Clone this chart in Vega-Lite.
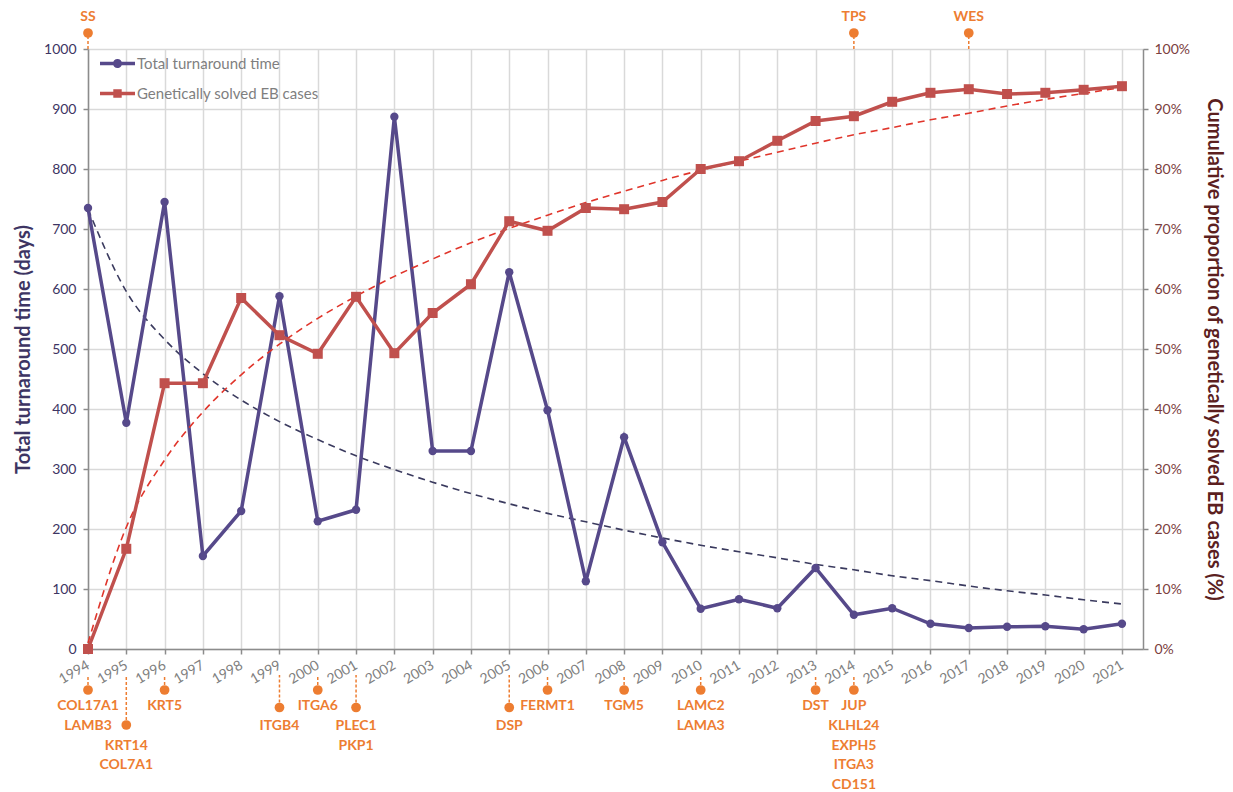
{
  "$schema": "https://vega.github.io/schema/vega-lite/v6.json",
  "width": 1055,
  "height": 600,
  "autosize": {"type": "none"},
  "padding": {"left": 88, "top": 49, "right": 90, "bottom": 143},
  "background": "white",
  "config": {
    "font": "Lato",
    "view": {"stroke": null},
    "legend": {"labelFont": "Lato"}
  },
  "datasets": {
    "tat": [
      {"year": 1994, "days": 735, "trend": 733},
      {"year": 1995, "days": 377, "trend": 596},
      {"year": 1996, "days": 745, "trend": 516},
      {"year": 1997, "days": 155, "trend": 459},
      {"year": 1998, "days": 230, "trend": 415},
      {"year": 1999, "days": 588, "trend": 379},
      {"year": 2000, "days": 213, "trend": 349},
      {"year": 2001, "days": 232, "trend": 322},
      {"year": 2002, "days": 887, "trend": 299},
      {"year": 2003, "days": 330, "trend": 278},
      {"year": 2004, "days": 330, "trend": 259},
      {"year": 2005, "days": 628, "trend": 242},
      {"year": 2006, "days": 398, "trend": 226},
      {"year": 2007, "days": 113, "trend": 212},
      {"year": 2008, "days": 353, "trend": 198},
      {"year": 2009, "days": 178, "trend": 185},
      {"year": 2010, "days": 67, "trend": 173},
      {"year": 2011, "days": 83, "trend": 162},
      {"year": 2012, "days": 68, "trend": 152},
      {"year": 2013, "days": 135, "trend": 141},
      {"year": 2014, "days": 57, "trend": 132},
      {"year": 2015, "days": 68, "trend": 122},
      {"year": 2016, "days": 42, "trend": 114},
      {"year": 2017, "days": 35, "trend": 105},
      {"year": 2018, "days": 37, "trend": 97},
      {"year": 2019, "days": 38, "trend": 90},
      {"year": 2020, "days": 33, "trend": 82},
      {"year": 2021, "days": 42, "trend": 75}
    ],
    "solved": [
      {"year": 1994, "pct": 0.0, "trend": 0.01},
      {"year": 1995, "pct": 0.167, "trend": 0.203},
      {"year": 1996, "pct": 0.443, "trend": 0.315},
      {"year": 1997, "pct": 0.443, "trend": 0.395},
      {"year": 1998, "pct": 0.585, "trend": 0.457},
      {"year": 1999, "pct": 0.523, "trend": 0.508},
      {"year": 2000, "pct": 0.492, "trend": 0.551},
      {"year": 2001, "pct": 0.587, "trend": 0.588},
      {"year": 2002, "pct": 0.493, "trend": 0.621},
      {"year": 2003, "pct": 0.56, "trend": 0.65},
      {"year": 2004, "pct": 0.608, "trend": 0.677},
      {"year": 2005, "pct": 0.713, "trend": 0.701},
      {"year": 2006, "pct": 0.697, "trend": 0.723},
      {"year": 2007, "pct": 0.735, "trend": 0.744},
      {"year": 2008, "pct": 0.733, "trend": 0.763},
      {"year": 2009, "pct": 0.745, "trend": 0.781},
      {"year": 2010, "pct": 0.8, "trend": 0.798},
      {"year": 2011, "pct": 0.813, "trend": 0.813},
      {"year": 2012, "pct": 0.847, "trend": 0.828},
      {"year": 2013, "pct": 0.88, "trend": 0.843},
      {"year": 2014, "pct": 0.888, "trend": 0.857},
      {"year": 2015, "pct": 0.912, "trend": 0.869},
      {"year": 2016, "pct": 0.927, "trend": 0.882},
      {"year": 2017, "pct": 0.933, "trend": 0.893},
      {"year": 2018, "pct": 0.925, "trend": 0.905},
      {"year": 2019, "pct": 0.927, "trend": 0.916},
      {"year": 2020, "pct": 0.932, "trend": 0.926},
      {"year": 2021, "pct": 0.938, "trend": 0.936}
    ],
    "methods": [
      {"year": 1994, "method": "SS", "lo": 0, "hi": 0.375},
      {"year": 2014, "method": "TPS", "lo": 0, "hi": 0.375},
      {"year": 2017, "method": "WES", "lo": 0, "hi": 0.375}
    ],
    "genes": [
      {"year": 1994, "gene": "COL17A1", "tier": 0, "line": 0},
      {"year": 1994, "gene": "LAMB3", "tier": 0, "line": 1},
      {"year": 1995, "gene": "KRT14", "tier": 2, "line": 0},
      {"year": 1995, "gene": "COL7A1", "tier": 2, "line": 1},
      {"year": 1996, "gene": "KRT5", "tier": 0, "line": 0},
      {"year": 1999, "gene": "ITGB4", "tier": 1, "line": 0},
      {"year": 2000, "gene": "ITGA6", "tier": 0, "line": 0},
      {"year": 2001, "gene": "PLEC1", "tier": 1, "line": 0},
      {"year": 2001, "gene": "PKP1", "tier": 1, "line": 1},
      {"year": 2005, "gene": "DSP", "tier": 1, "line": 0},
      {"year": 2006, "gene": "FERMT1", "tier": 0, "line": 0},
      {"year": 2008, "gene": "TGM5", "tier": 0, "line": 0},
      {"year": 2010, "gene": "LAMC2", "tier": 0, "line": 0},
      {"year": 2010, "gene": "LAMA3", "tier": 0, "line": 1},
      {"year": 2013, "gene": "DST", "tier": 0, "line": 0},
      {"year": 2014, "gene": "JUP", "tier": 0, "line": 0},
      {"year": 2014, "gene": "KLHL24", "tier": 0, "line": 1},
      {"year": 2014, "gene": "EXPH5", "tier": 0, "line": 2},
      {"year": 2014, "gene": "ITGA3", "tier": 0, "line": 3},
      {"year": 2014, "gene": "CD151", "tier": 0, "line": 4}
    ],
    "series": [
      {"series": "Total turnaround time"},
      {"series": "Genetically solved EB cases"}
    ]
  },
  "encoding": {
    "x": {
      "field": "year",
      "type": "quantitative",
      "scale": {"domain": [1994, 2021.55], "nice": false, "zero": false},
      "axis": {
        "title": null,
        "values": [1994, 1995, 1996, 1997, 1998, 1999, 2000, 2001, 2002, 2003, 2004, 2005, 2006, 2007, 2008, 2009, 2010, 2011, 2012, 2013, 2014, 2015, 2016, 2017, 2018, 2019, 2020, 2021],
        "format": "d",
        "labelAngle": -30,
        "labelAlign": "right",
        "labelBaseline": "middle",
        "labelColor": "#808080",
        "labelFontSize": 14,
        "labelPadding": 10,
        "labelOverlap": false,
        "labelFlush": false,
        "grid": true,
        "gridColor": "#d9d9d9",
        "gridWidth": 1.5,
        "domainColor": "#8c8c8c",
        "domainWidth": 1.5,
        "tickColor": "#8c8c8c",
        "tickSize": 5,
        "tickWidth": 1.5
      }
    }
  },
  "layer": [
    {
      "data": {"name": "tat"},
      "encoding": {
        "y": {
          "field": "days",
          "type": "quantitative",
          "scale": {"domain": [0, 1000], "nice": false},
          "axis": {
            "orient": "left",
            "title": "Total turnaround time (days)",
            "titleFontSize": 20,
            "titleFontWeight": "bold",
            "titleColor": "#3D3563",
            "titlePadding": 10,
            "labelColor": "#3D3563",
            "labelFontSize": 14,
            "labelPadding": 7,
            "format": "d",
            "values": [0, 100, 200, 300, 400, 500, 600, 700, 800, 900, 1000],
            "grid": true,
            "gridColor": "#d9d9d9",
            "gridWidth": 1.5,
            "domainColor": "#8c8c8c",
            "domainWidth": 1.5,
            "tickColor": "#8c8c8c",
            "tickSize": 5,
            "tickWidth": 1.5
          }
        }
      },
      "layer": [
        {
          "mark": {"type": "line", "color": "#3A3A5E", "strokeWidth": 1.6, "strokeDash": [7, 5], "interpolate": "monotone"},
          "encoding": {"y": {"field": "trend", "type": "quantitative"}}
        },
        {
          "mark": {"type": "line", "color": "#56498A", "strokeWidth": 3.5},
          "encoding": {}
        },
        {
          "mark": {"type": "point", "filled": true, "color": "#56498A", "size": 70, "opacity": 1, "shape": "circle"},
          "encoding": {}
        }
      ]
    },
    {
      "data": {"name": "solved"},
      "encoding": {
        "y": {
          "field": "pct",
          "type": "quantitative",
          "scale": {"domain": [0, 1], "nice": false},
          "axis": {
            "orient": "right",
            "title": "Cumulative proportion of genetically solved EB cases (%)",
            "titleFontSize": 20,
            "titleFontWeight": "bold",
            "titleColor": "#5C1F1F",
            "titleAngle": 90,
            "titlePadding": 14,
            "labelColor": "#7B4040",
            "labelFontSize": 14,
            "labelPadding": 6,
            "format": ".0%",
            "values": [0, 0.1, 0.2, 0.3, 0.4, 0.5, 0.6, 0.7, 0.8, 0.9, 1],
            "grid": false,
            "domainColor": "#8c8c8c",
            "domainWidth": 1.5,
            "tickColor": "#8c8c8c",
            "tickSize": 5,
            "tickWidth": 1.5
          }
        }
      },
      "layer": [
        {
          "mark": {"type": "line", "color": "#E0352B", "strokeWidth": 1.6, "strokeDash": [7, 5], "interpolate": "monotone"},
          "encoding": {"y": {"field": "trend", "type": "quantitative"}}
        },
        {
          "mark": {"type": "line", "color": "#C0504D", "strokeWidth": 3.5},
          "encoding": {}
        },
        {
          "mark": {"type": "point", "filled": true, "color": "#C0504D", "size": 100, "opacity": 1, "shape": "square"},
          "encoding": {}
        }
      ]
    },
    {
      "data": {"name": "methods"},
      "layer": [
        {
          "mark": {"type": "rule", "color": "#ED7D31", "strokeWidth": 1.5, "strokeDash": [3, 2]},
          "encoding": {
            "y": {"field": "lo", "type": "quantitative", "scale": {"domain": [0, 1], "range": [0, -32]}, "axis": null},
            "y2": {"field": "hi"}
          }
        },
        {
          "mark": {"type": "point", "filled": true, "color": "#ED7D31", "size": 95, "opacity": 1, "shape": "circle", "yOffset": -16},
          "encoding": {
            "y": {"field": "lo", "type": "quantitative", "scale": {"domain": [0, 1], "range": [0, -32]}, "axis": null}
          }
        },
        {
          "mark": {"type": "text", "color": "#ED7D31", "fontSize": 14, "fontWeight": "bold", "align": "center", "baseline": "middle", "yOffset": -32},
          "encoding": {
            "y": {"field": "lo", "type": "quantitative", "scale": {"domain": [0, 1], "range": [0, -32]}, "axis": null},
            "text": {"field": "method", "type": "nominal"}
          }
        }
      ]
    },
    {
      "data": {"name": "genes"},
      "transform": [{"filter": "datum.line == 0"}],
      "layer": [
        {
          "mark": {"type": "rule", "color": "#ED7D31", "strokeWidth": 1.5, "strokeDash": [3, 2], "y2Offset": -15},
          "encoding": {
            "y": {"field": "tier", "type": "quantitative", "scale": {"domain": [0, 2], "range": [641, 676]}, "axis": null},
            "y2": {"datum": 0}
          }
        },
        {
          "mark": {"type": "point", "filled": true, "color": "#ED7D31", "size": 95, "opacity": 1, "shape": "circle"},
          "encoding": {
            "y": {"field": "tier", "type": "quantitative", "scale": {"domain": [0, 2], "range": [641, 676]}, "axis": null}
          }
        }
      ]
    },
    {
      "data": {"name": "genes"},
      "transform": [{"calculate": "datum.tier + datum.line", "as": "slot"}],
      "mark": {"type": "text", "color": "#ED7D31", "fontSize": 14, "fontWeight": "bold", "align": "center", "baseline": "middle"},
      "encoding": {
        "y": {"field": "slot", "type": "quantitative", "scale": {"domain": [0, 5], "range": [657, 755.75]}, "axis": null},
        "text": {"field": "gene", "type": "nominal"}
      }
    },
    {
      "data": {"name": "series"},
      "mark": {"type": "point", "filled": true, "opacity": 1},
      "encoding": {
        "y": {"field": "year", "type": "quantitative", "axis": null},
        "color": {
          "field": "series",
          "type": "nominal",
          "scale": {"domain": ["Total turnaround time", "Genetically solved EB cases"], "range": ["#56498A", "#C0504D"]},
          "legend": {
            "title": null,
            "orient": "none",
            "legendX": 12,
            "legendY": -3,
            "symbolSize": 1225,
            "symbolStrokeWidth": 0,
            "symbolOpacity": 1,
            "labelFontSize": 15,
            "labelLimit": 0,
            "labelColor": "#7f7f7f",
            "labelOffset": 2,
            "rowPadding": 4
          }
        },
        "shape": {
          "field": "series",
          "type": "nominal",
          "scale": {
            "domain": ["Total turnaround time", "Genetically solved EB cases"],
            "range": [
              "M-1,-0.1H1V0.1H-1Z M0.26,0A0.26,0.26,0,1,1,-0.26,0A0.26,0.26,0,1,1,0.26,0Z",
              "M-1,-0.1H1V0.1H-1Z M-0.24,-0.24H0.24V0.24H-0.24Z"
            ]
          },
          "legend": {
            "title": null,
            "orient": "none",
            "legendX": 12,
            "legendY": -3,
            "symbolSize": 1225,
            "symbolStrokeWidth": 0,
            "symbolOpacity": 1,
            "labelFontSize": 15,
            "labelLimit": 0,
            "labelColor": "#7f7f7f",
            "labelOffset": 2,
            "rowPadding": 4
          }
        }
      }
    }
  ],
  "resolve": {"scale": {"y": "independent"}}
}
